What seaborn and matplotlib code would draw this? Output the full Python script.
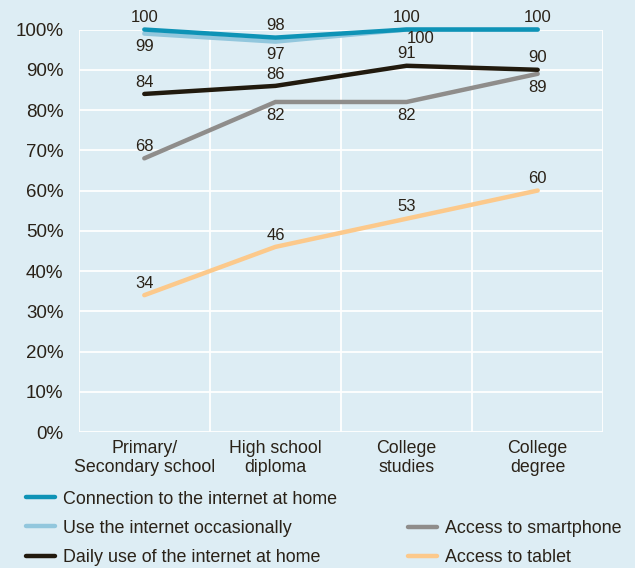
import matplotlib
matplotlib.use('Agg')
import matplotlib.pyplot as plt
from matplotlib.lines import Line2D
import pandas as pd
import seaborn as sns

categories = ['Primary/\nSecondary school', 'High school\ndiploma', 'College\nstudies', 'College\ndegree']
series = ['Connection to the internet at home', 'Use the internet occasionally',
          'Daily use of the internet at home', 'Access to smartphone', 'Access to tablet']
connection = [100, 98, 100, 100]
occasional = [99, 97, 100, 100]
daily = [84, 86, 91, 90]
smartphone = [68, 82, 82, 89]
tablet = [34, 46, 53, 60]
colors = ['#0e93b6', '#92c7dd', '#211a0e', '#8f8d8b', '#fcc98b']
y_ticks = list(range(0, 101, 10))

values = [connection, occasional, daily, smartphone, tablet]
df = pd.DataFrame([
    {'series': s, 'pos': i, 'value': v}
    for s, vals in zip(series, values) for i, v in enumerate(vals)
])

bg = '#ddedf4'
sns.set_style('white')
plt.rcParams['font.family'] = ['Liberation Sans', 'DejaVu Sans']

fig = plt.figure(figsize=(6.35, 5.68), dpi=100, facecolor=bg)
ax = fig.add_axes([0.124, 0.2394, 0.826, 0.7086])
ax.set_facecolor(bg)

# draw order: back series first
draw_order = [4, 3, 2, 1, 0]
for k in draw_order:
    sub = df[df['series'] == series[k]]
    sns.lineplot(data=sub, x='pos', y='value', color=colors[k], lw=3.2,
                 ax=ax, legend=False, clip_on=False, zorder=3 + (4 - k) * 0.1,
                 solid_joinstyle='miter')

ax.set_xlim(-0.5, 3.5)
ax.set_ylim(0, 100)
for s in ax.spines.values():
    s.set_visible(False)

ax.set_yticks(y_ticks)
ax.set_yticklabels([f'{t}%' for t in y_ticks], fontsize=13.5, color='#2a2218')
ax.tick_params(axis='y', length=9, width=1.3, color='white', pad=2)
ax.set_xticks([0, 1, 2, 3])
ax.set_xticklabels(categories, fontsize=12.8, color='#2a2218', linespacing=1.1)
ax.tick_params(axis='x', length=0, pad=6)
ax.set_xticks([-0.5, 0.5, 1.5, 2.5, 3.5], minor=True)
ax.tick_params(axis='x', which='minor', length=10, width=1.3, color='white')
ax.grid(axis='y', color='white', lw=1.3, zorder=0)
ax.grid(axis='x', which='minor', color='white', lw=1.3, zorder=0)
ax.set_xlabel('')
ax.set_ylabel('')

txt = dict(fontsize=12, color='#2a2218', ha='center', zorder=6)
def label(vals, dy, skip=(), dx=None):
    for i, v in enumerate(vals):
        if i in skip:
            continue
        ox = dx.get(i, 0) if dx else 0
        oy = dy[i] if isinstance(dy, list) else dy
        ax.annotate(str(v), (i, v), xytext=(ox, oy),
                    textcoords='offset points', va='center', **txt)

up, down = 8.5, -9.5
label(connection, up)
label(occasional, [down, down, -6.5, down], skip=(3,), dx={2: 10})
label(daily, up)
label(smartphone, [up, down, down, down])
label(tablet, up)

handles = [Line2D([], [], color=c, lw=3.2) for c in colors]
leg_kw = dict(frameon=False, fontsize=12.9, handlelength=1.6, handletextpad=0.45,
              labelspacing=0.68, borderaxespad=0, labelcolor='#2a2218')
leg1 = fig.legend(handles[:3], series[:3], loc='upper left',
                  bbox_to_anchor=(0.030, 0.149), **leg_kw)
leg2 = fig.legend(handles[3:], series[3:], loc='upper left',
                  bbox_to_anchor=(0.632, 0.097), **leg_kw)

fig.savefig('out.png', dpi=100, facecolor=bg)
